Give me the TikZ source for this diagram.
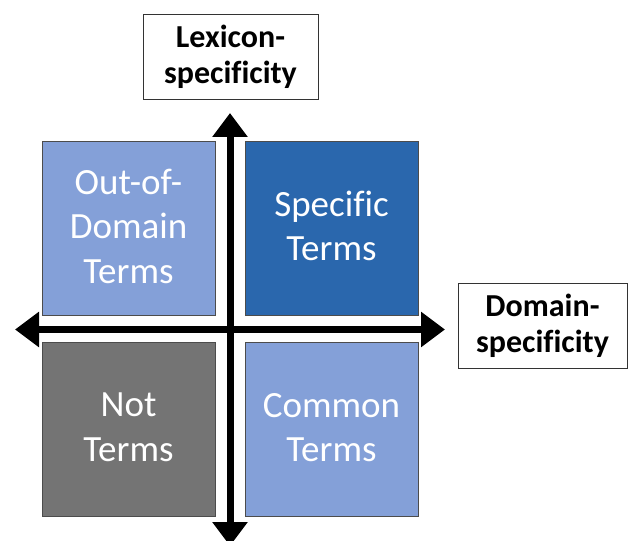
\documentclass[tikz,border=0pt]{standalone}
\usepackage{fontspec}
\setmainfont[Ligatures=NoCommon]{Carlito}
\usetikzlibrary{arrows.meta}
\definecolor{lightq}{HTML}{84A0D8}
\definecolor{darkq}{HTML}{2A67AD}
\definecolor{greyq}{HTML}{747474}
\tikzset{
  quad/.style={draw=black!70, line width=0.9pt, minimum width=173pt, minimum height=174pt, inner sep=0pt},
  quadtext/.style={inner sep=0pt, text=white, align=center, font=\fontsize{37pt}{44.5pt}\selectfont, yshift=2pt},
  axislabel/.style={draw=black!80, fill=white, line width=0.9pt, inner sep=0pt, align=center, font=\fontsize{32pt}{36pt}\selectfont\bfseries},
  axisarrow/.style={line width=7pt, {Triangle[width=34pt,length=24pt]}-{Triangle[width=34pt,length=24pt]}}
}
\begin{document}
\begin{tikzpicture}[x=1pt,y=-1pt]
\useasboundingbox (0,0) rectangle (628,540);
\node[quad, fill=lightq] (ood) at (128.5,228) {};
\node[quad, fill=darkq] (spec) at (331.5,228) {};
\node[quad, fill=greyq] (nott) at (128.5,429.5) {};
\node[quad, fill=lightq] (comm) at (331.5,429.5) {};
\node[quadtext] (oodt) at (ood.center) {Out-of-\\Domain\\Terms};
\node[quadtext] (spect) at (spec.center) {Specific\\Terms};
\node[quadtext] (nottt) at (nott.center) {Not\\Terms};
\node[quadtext] (commt) at (comm.center) {Common\\Terms};
\coordinate (vtop) at (230,113);
\coordinate (vbot) at (230,546);
\coordinate (hleft) at (15,329.5);
\coordinate (hright) at (445,329.5);
\draw[axisarrow] (vbot) -- (vtop);
\draw[axisarrow] (hleft) -- (hright);
\node[axislabel, minimum width=175pt, minimum height=85pt] (lex) at (230.5,56.5) {Lexicon-\\specificity};
\node[axislabel, minimum width=169pt, minimum height=85pt] (dom) at (542.5,325.5) {Domain-\\specificity};
\end{tikzpicture}
\end{document}
